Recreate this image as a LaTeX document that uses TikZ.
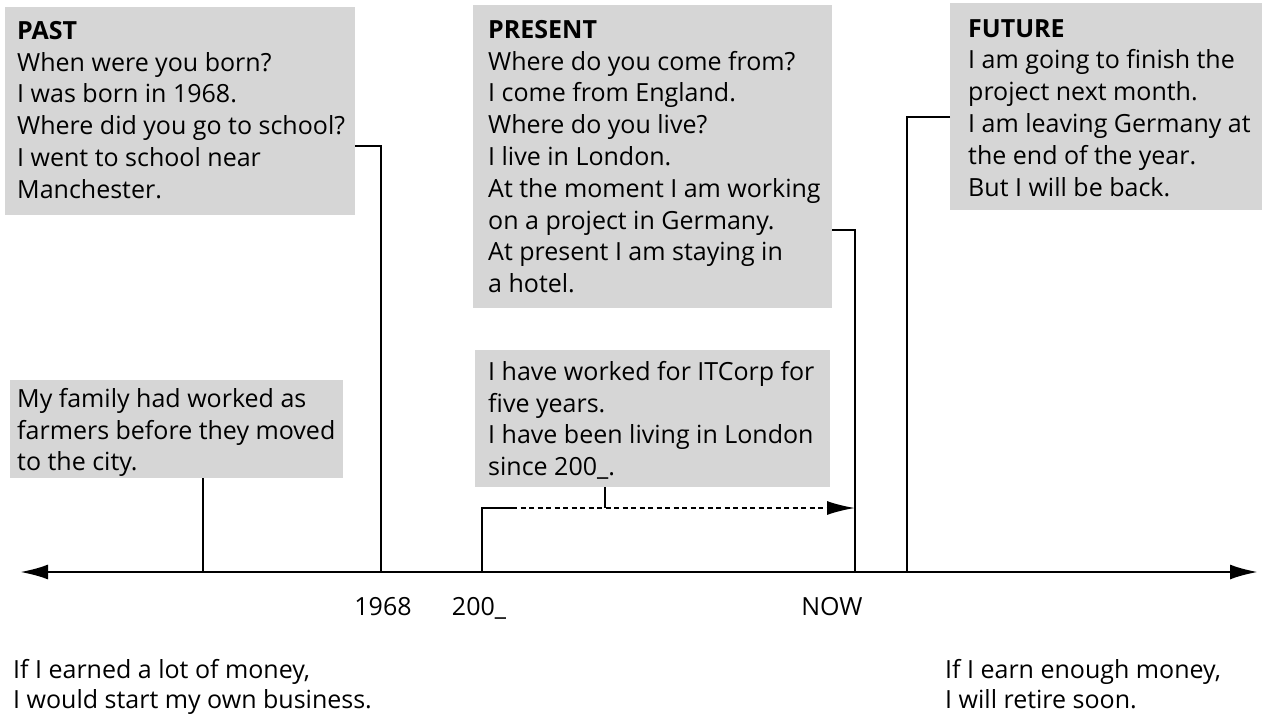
\documentclass[tikz,border=0pt]{standalone}
\usepackage{fontspec}
\setmainfont{Open Sans}
\usetikzlibrary{arrows.meta}
\definecolor{boxgray}{RGB}{214,214,214}
\newcommand\bodyfont{\fontsize{25}{31.8}\selectfont}
\begin{document}
\begin{tikzpicture}[x=1pt,y=-1pt,
  gbox/.style={fill=boxgray, draw=none, anchor=north west, inner sep=0pt},
  gtext/.style={anchor=north west, align=left, inner sep=0pt, font=\bodyfont},
  lbl/.style={font=\bodyfont, inner sep=0pt},
  conn/.style={line width=2pt},
  axisline/.style={line width=2.6pt, {Latex[length=28pt,width=15pt]}-{Latex[length=28pt,width=15pt]}},
  dashline/.style={line width=2pt, dash pattern=on 5pt off 3.5pt, -{Latex[length=28pt,width=14pt]}}
]
\useasboundingbox (0,0) rectangle (1264,720);

% boxes
\node[gbox, minimum width=350pt, minimum height=208pt] (past) at (5,7) {};
\node[gbox, minimum width=359pt, minimum height=303pt] (present) at (473,5) {};
\node[gbox, minimum width=312pt, minimum height=207pt] (future) at (950,3) {};
\node[gbox, minimum width=333pt, minimum height=98pt] (family) at (10,380) {};
\node[gbox, minimum width=355pt, minimum height=137pt] (itcorp) at (475,350) {};

% texts
\node[gtext] (pasttxt) at (17,21) {\textbf{PAST}\\When were you born?\\I was born in 1968.\\Where did you go to school?\\I went to school near\\Manchester.};
\node[gtext] (presenttxt) at (488,20) {\textbf{PRESENT}\\Where do you come from?\\I come from England.\\Where do you live?\\I live in London.\\At the moment I am working\\on a project in Germany.\\At present I am staying in\\a hotel.};
\node[gtext] (futuretxt) at (968,19) {\textbf{FUTURE}\\I am going to finish the\\project next month.\\I am leaving Germany at\\the end of the year.\\But I will be back.};
\node[gtext] (familytxt) at (17,388) {My family had worked as\\farmers before they moved\\to the city.};
\node[gtext] (itcorptxt) at (488,361) {I have worked for ITCorp for\\five years.\\I have been living in London\\since 200\_.};

% axis
\coordinate (axl) at (20,572);
\coordinate (axr) at (1258,572);
\draw[axisline] (axl) -- (axr);

% connectors
\coordinate (famax) at (203,572);
\draw[conn] (family.south -| famax) -- (famax);

\coordinate (b1968) at (381,146);
\coordinate (a1968) at (381,572);
\draw[conn] (past.east |- b1968) -- (b1968) -- (a1968);

\coordinate (nowb) at (855,230);
\coordinate (now) at (855,572);
\draw[conn] (present.east |- nowb) -- (nowb) -- (now);

\coordinate (futb) at (907,117);
\coordinate (fut) at (907,572);
\draw[conn] (future.west |- futb) -- (futb) -- (fut);

\coordinate (d0) at (482,572);
\coordinate (d1) at (482,508);
\coordinate (d2) at (512,508);
\coordinate (dend) at (855,508);
\coordinate (tick) at (605,508);
\draw[conn] (itcorp.south -| tick) -- (tick);
\draw[conn] (d0) -- (d1) -- (d2);
\draw[dashline] (d2) -- (dend);

% axis labels
\node[lbl, anchor=base] (l1968) at (383,615) {1968};
\node[lbl, anchor=base] (l200) at (479,615) {200\_};
\node[lbl, anchor=base] (lnow) at (832,615) {NOW};

% bottom texts
\node[lbl, anchor=base west] (if1) at (13,678) {If I earned a lot of money,};
\node[lbl, anchor=base west] (if2) at (13,708) {I would start my own business.};
\node[lbl, anchor=base west] (if3) at (945,678) {If I earn enough money,};
\node[lbl, anchor=base west] (if4) at (945,708) {I will retire soon.};
\end{tikzpicture}
\end{document}
